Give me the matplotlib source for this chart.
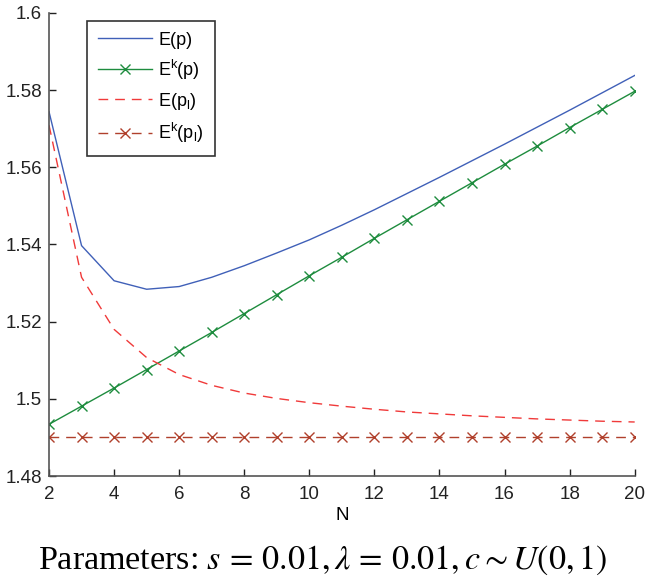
import matplotlib
matplotlib.use("Agg")
import matplotlib.pyplot as plt

N = list(range(2, 21))
E_p = [1.5744, 1.5397, 1.5306, 1.5284, 1.5291, 1.5315, 1.5345, 1.5378, 1.5412,
       1.5450, 1.5490, 1.5532, 1.5574, 1.5617, 1.5660, 1.5704, 1.5748, 1.5793, 1.5838]
Ek_p = [1.4934, 1.4981, 1.5028, 1.5076, 1.5124, 1.5172, 1.5221, 1.5270, 1.5319,
        1.5367, 1.5416, 1.5464, 1.5512, 1.5560, 1.5608, 1.5655, 1.5703, 1.5750, 1.5797]
E_pl = [1.5709, 1.5315, 1.5180, 1.5107, 1.5063, 1.5035, 1.5015, 1.5001, 1.4990,
        1.4981, 1.4973, 1.4966, 1.4961, 1.4956, 1.4952, 1.4948, 1.4945, 1.4942, 1.4940]
Ek_pl = [1.4900] * 19

labels = ["E(p)", r"E$^\mathregular{k}$(p)", r"E(p$_\mathregular{l}$)", r"E$^\mathregular{k}$(p$_\mathregular{l}$)"]
xticks = [2, 4, 6, 8, 10, 12, 14, 16, 18, 20]
yticks = [1.48, 1.5, 1.52, 1.54, 1.56, 1.58, 1.6]
ytick_labels = ["1.48", "1.5", "1.52", "1.54", "1.56", "1.58", "1.6"]

plt.rcParams['font.family'] = ['Liberation Sans', 'DejaVu Sans']
plt.rcParams['mathtext.fontset'] = 'custom'
plt.rcParams['mathtext.rm'] = 'Liberation Sans'

fig = plt.figure(figsize=(6.45, 5.81), dpi=100)
ax = fig.add_axes([0.076, 0.1807, 0.908, 0.797])

ax.plot(N, E_p, color='#4060b8', lw=1.0, label=labels[0])
ax.plot(N, Ek_p, color='#1e8c3e', lw=1.0, marker='x', ms=7, mew=1.0, label=labels[1])
ax.plot(N, E_pl, color='#f03a3a', lw=1.0, ls=(0, (7, 5)), label=labels[2])
ax.plot(N, Ek_pl, color='#b0402c', lw=1.0, ls=(0, (7, 5)), marker='x', ms=7, mew=1.0, label=labels[3])

ax.set_xlim(2, 20)
ax.set_ylim(1.48, 1.6)
ax.set_xticks(xticks)
ax.set_yticks(yticks)
ax.set_yticklabels(ytick_labels)
ax.tick_params(direction='in', length=5, width=1, labelsize=13.5, colors='#222222')
ax.tick_params(axis='x', pad=7)
ax.tick_params(axis='y', pad=5)
for s in ['top', 'right']:
    ax.spines[s].set_visible(False)
for s in ['left', 'bottom']:
    ax.spines[s].set_color('#555555')
    ax.spines[s].set_linewidth(1.2)
ax.set_xlabel("N", fontsize=13.5, labelpad=3)

leg = ax.legend(loc='upper left', bbox_to_anchor=(0.065, 0.983), borderaxespad=0,
                fontsize=13, frameon=True,
                fancybox=False, edgecolor='black', handlelength=3.0, borderpad=0.6,
                labelspacing=0.5, handletextpad=0.35, numpoints=1)
leg.get_frame().set_linewidth(1.2)

fig.text(0.5, 0.036, r"Parameters: $s\, =\, 0.01, \lambda\, =\, 0.01, c \sim U(0, 1)$",
         ha='center', va='center', fontsize=24.5, family='Liberation Serif',
         math_fontfamily='stix')

fig.savefig("out.png", dpi=100)
